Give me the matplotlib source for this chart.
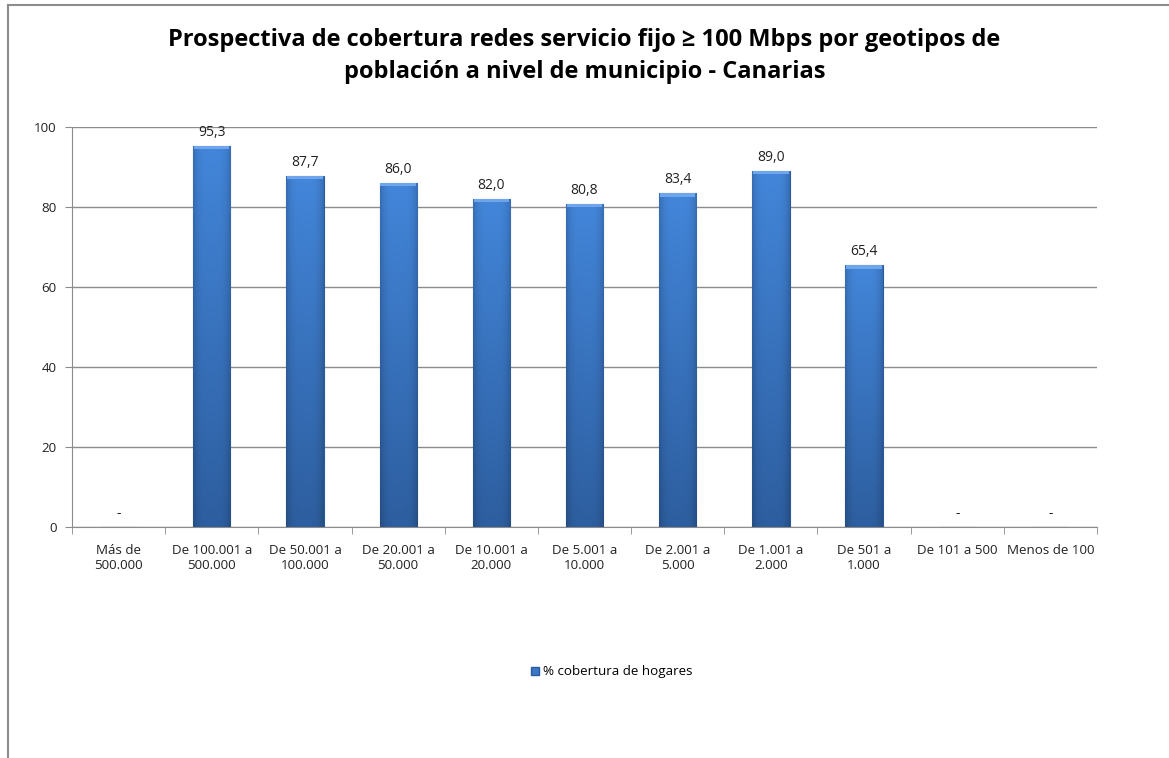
import matplotlib
matplotlib.use('Agg')
import matplotlib.pyplot as plt
import numpy as np
from matplotlib.patches import Rectangle
from matplotlib.lines import Line2D
from matplotlib.colors import to_rgb

categories = ['Más de\n500.000', 'De 100.001 a\n500.000', 'De 50.001 a\n100.000',
              'De 20.001 a\n50.000', 'De 10.001 a\n20.000', 'De 5.001 a\n10.000',
              'De 2.001 a\n5.000', 'De 1.001 a\n2.000', 'De 501 a\n1.000',
              'De 101 a 500', 'Menos de 100']
values = [0, 95.3, 87.7, 86.0, 82.0, 80.8, 83.4, 89.0, 65.4, 0, 0]
labels = ['-', '95,3', '87,7', '86,0', '82,0', '80,8', '83,4', '89,0', '65,4', '-', '-']
series_name = '% cobertura de hogares'
title = ('Prospectiva de cobertura redes servicio fijo \u2265 100 Mbps por geotipos de\n'
         'población a nivel de municipio - Canarias')

plt.rcParams['font.family'] = ['Open Sans', 'DejaVu Sans']

fig = plt.figure(figsize=(11.69, 7.58), dpi=100)
W, H = 1169, 758
ax = fig.add_axes([72 / W, 1 - 527 / H, (1097 - 72) / W, (527 - 127) / H])

x = np.arange(len(categories))
bars = ax.bar(x, values, width=0.4, color='#3a78ca', edgecolor='#2b5a98', linewidth=0.8, zorder=2)

# shading inside each bar: lighter on top, darker at the sides
top, bottom = np.array(to_rgb('#4386da')), np.array(to_rgb('#2d5e9f'))
t = np.linspace(0, 1, 200).reshape(-1, 1, 1)
u = np.linspace(-1, 1, 60).reshape(1, -1, 1)
shade = 1 - 0.18 * np.abs(u) ** 4
img = np.clip((bottom + (top - bottom) * t) * shade, 0, 1)
for b in bars:
    if b.get_height() <= 0:
        continue
    bx, by, bw, bh = b.get_x(), b.get_y(), b.get_width(), b.get_height()
    im = ax.imshow(img, extent=[bx, bx + bw, by, by + bh], origin='lower',
                   aspect='auto', zorder=2.5, interpolation='bilinear')
    im.set_clip_path(b)
    ax.add_patch(Rectangle((bx + 0.01, by + bh - 0.8), bw - 0.02, 0.8, facecolor='#6fa5ea',
                           edgecolor='none', zorder=3))

for xi, v, lab in zip(x, values, labels):
    ax.text(xi, v + 1.5, lab, ha='center', va='bottom', fontsize=10, color='#222222')

ax.set_xlim(-0.5, len(categories) - 0.5)
ax.set_ylim(0, 100)
ax.set_yticks(range(0, 101, 20))
ax.yaxis.grid(True, color='#8c8c8c', linewidth=1.0, zorder=0)
ax.set_axisbelow(True)
ax.set_xticks(x)
ax.set_xticklabels(categories, fontsize=9.6, color='#222222', linespacing=1.25)
ax.tick_params(axis='x', length=0, pad=12)
ax.set_xticks(np.arange(-0.5, len(categories)), minor=True)
ax.tick_params(axis='x', which='minor', length=5, color='#8c8c8c')
ax.tick_params(axis='y', length=5, color='#8c8c8c', labelsize=9.6, labelcolor='#222222', pad=6)
for s in ['top', 'right']:
    ax.spines[s].set_visible(False)
ax.spines['left'].set_color('#8c8c8c')
ax.spines['bottom'].set_color('#8c8c8c')

fig.text(0.5, 1 - 56 / H, title, ha='center', va='center', fontsize=17,
         fontweight='bold', linespacing=1.5)

handle = Rectangle((0, 0), 1, 1, facecolor='#3a78ca', edgecolor='#2b5a98')
fig.legend([handle], [series_name], loc='center', bbox_to_anchor=(612 / W, 1 - 672 / H),
           frameon=False, fontsize=9.6, handlelength=0.6, handleheight=0.6, handletextpad=0.3)

# chart frame lines (left and top)
fig.add_artist(Line2D([7.5 / W, 7.5 / W], [0, 1 - 5 / H], color='#8c8c8c', linewidth=1.5))
fig.add_artist(Line2D([7.5 / W, 1], [1 - 5 / H, 1 - 5 / H], color='#8c8c8c', linewidth=1.5))

fig.savefig('out.png', dpi=100)
